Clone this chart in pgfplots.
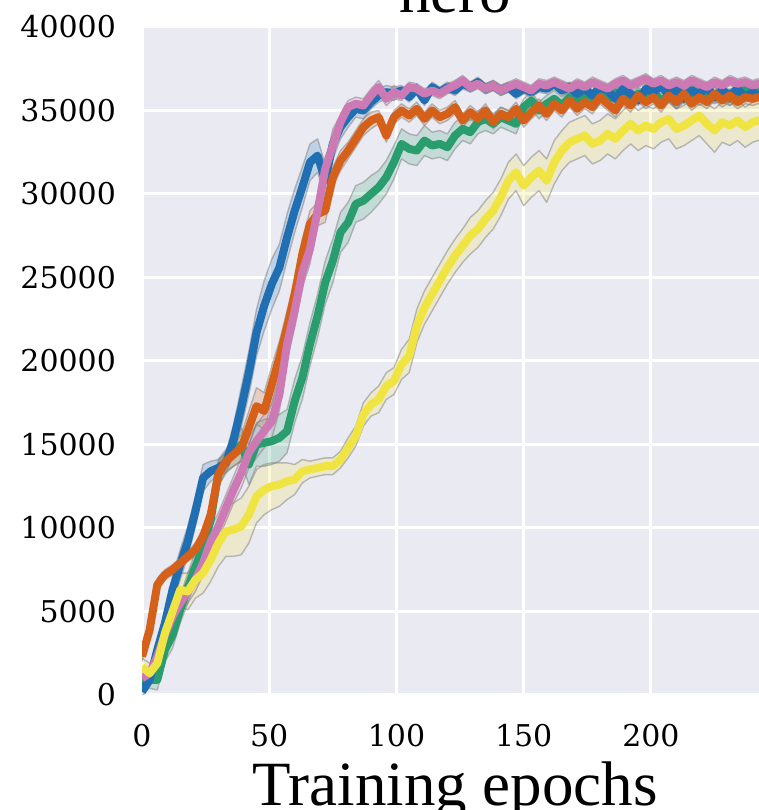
\documentclass[border=0pt]{standalone}
\usepackage{fontspec}
\setmainfont{Liberation Serif}
\newfontfamily\tickfont{DejaVu Serif}
\usepackage{pgfplots}
\pgfplotsset{compat=1.18}
\usepgfplotslibrary{fillbetween}
\usepackage{pgfplotstable}

\definecolor{bg}{HTML}{EAEAF2}
\definecolor{cblue}{HTML}{1F6FB2}
\definecolor{corange}{HTML}{D5601A}
\definecolor{cgreen}{HTML}{2A9D6F}
\definecolor{cpink}{HTML}{CC79B4}
\definecolor{cyellow}{HTML}{F0E442}

% x = epoch, m = mean return, d = half width of the band
\pgfplotstableread{
x m d
0 200 300
3 900 400
6 2700 500
9 4300 700
12 6300 800
15 7800 900
18 9200 900
21 11000 900
24 13000 800
27 13400 600
30 13600 500
33 13900 600
36 15300 900
39 17200 1200
42 19300 1300
45 21700 1400
48 23300 1500
51 24600 1500
54 25600 1400
57 27400 1400
60 29000 1300
63 30400 1200
66 31900 1100
69 32300 1000
72 30800 1000
75 33000 900
78 34000 700
81 34600 600
84 35100 500
87 35000 500
90 35500 400
93 35900 400
96 36100 400
99 36000 400
102 36200 300
105 35800 300
108 36300 300
111 35600 300
114 36400 300
117 36100 300
120 36400 300
123 36200 300
126 36600 300
129 36400 300
132 36700 300
135 36300 300
138 36500 300
141 36200 300
144 36400 300
147 36000 300
150 36300 300
153 36100 300
156 36400 300
159 36300 300
162 36600 300
165 36200 300
168 36400 300
171 36000 300
174 36300 300
177 35900 300
180 36400 300
183 36200 300
186 35700 300
189 36300 300
192 36000 300
195 35600 300
198 36300 300
201 36100 300
204 36500 300
207 35900 300
210 36300 300
213 35700 300
216 36200 300
219 36000 300
222 36400 300
225 35800 300
228 36200 300
231 35900 300
234 36300 300
237 35800 300
240 36100 300
242 35900 300
245 36000 300
}\blueT

\pgfplotstableread{
x m d
0 2300 300
3 3900 400
6 6600 400
9 7200 300
12 7500 300
15 7900 300
18 8300 300
21 8700 400
24 9500 500
27 10800 600
30 13200 700
33 14000 600
36 14400 700
39 14800 800
42 16000 1000
45 17300 1100
48 17000 1100
51 18600 1100
54 20200 1000
57 22000 1000
60 24000 900
63 26400 900
66 28200 800
69 28800 700
72 29000 700
75 31000 600
78 32000 600
81 32600 500
84 33300 500
87 34000 500
90 34400 500
93 34600 400
96 33500 400
99 34600 400
102 35000 400
105 34700 400
108 35100 400
111 34500 400
114 35000 400
117 34600 400
120 34800 400
123 35200 400
126 34400 400
129 34900 400
132 34500 400
135 35000 400
138 34300 400
141 34800 400
144 34600 400
147 35100 400
150 34400 400
153 34900 400
156 35300 400
159 34800 400
162 35400 400
165 35000 400
168 35600 400
171 35100 400
174 35500 400
177 35200 400
180 35800 400
183 35400 400
186 35000 400
189 35700 400
192 35300 400
195 35900 400
198 35500 400
201 35800 400
204 35300 400
207 35900 400
210 35500 400
213 36000 400
216 35400 400
219 35800 400
222 35500 400
225 36000 400
228 35600 400
231 35900 400
234 35500 400
237 35800 400
240 35700 400
242 35800 400
245 35700 400
}\orangeT

\pgfplotstableread{
x m d
0 700 400
3 900 500
6 900 600
9 2700 700
12 3600 800
15 5100 800
18 6400 900
21 7700 900
24 8800 900
27 10500 900
30 13300 800
33 14000 700
36 14500 800
39 15000 1000
42 13800 1200
45 15000 1300
48 15100 1400
51 15200 1400
54 15400 1400
57 15800 1300
60 17600 1300
63 19000 1300
66 21000 1300
69 22700 1300
72 24700 1300
75 26000 1300
78 27700 1200
81 28300 1200
84 29400 1100
87 29600 1100
90 30000 1100
93 30400 1000
96 31000 1000
99 31900 1000
102 33000 900
105 32700 900
108 32600 900
111 33200 900
114 32900 800
117 33000 800
120 32800 800
123 33500 800
126 33900 700
129 33700 700
132 34300 700
135 34500 700
138 34200 600
141 34600 600
144 34400 600
147 34200 600
150 35200 500
153 35600 500
156 35000 500
159 35400 500
162 35700 500
165 35300 500
168 35800 400
171 35500 400
174 35900 400
177 35600 400
180 36000 400
183 35700 400
186 36100 400
189 35800 400
192 35600 400
195 36000 400
198 35700 400
201 36100 400
204 35600 400
207 35900 400
210 35500 400
213 35900 400
216 36200 400
219 35700 400
222 36000 400
225 35800 400
228 36100 400
231 35700 400
234 36100 400
237 36300 400
240 35900 400
242 36100 400
245 36000 400
}\greenT

\pgfplotstableread{
x m d
0 1000 400
3 1300 400
6 2300 500
9 3600 600
12 4700 600
15 5500 600
18 6200 700
21 6900 700
24 7900 700
27 9200 800
30 10100 800
33 11200 800
36 12300 800
39 13300 900
42 14500 900
45 15200 1000
48 15800 1000
51 16400 1000
54 18000 1000
57 21000 1000
60 23000 1000
63 25300 900
66 26700 900
69 29000 800
72 31500 700
75 32900 600
78 34300 500
81 35200 400
84 35400 400
87 35300 400
90 35900 400
93 36400 400
96 35700 400
99 36100 400
102 35900 300
105 36400 300
108 36300 300
111 36000 300
114 36200 300
117 36000 300
120 36300 300
123 36500 300
126 36800 300
129 36400 300
132 36600 300
135 36300 300
138 36500 300
141 36200 300
144 36400 300
147 36600 300
150 36400 300
153 36200 300
156 36600 300
159 36500 300
162 36700 300
165 36500 300
168 36300 300
171 36600 300
174 36400 300
177 36700 300
180 36500 300
183 36300 300
186 36600 300
189 36800 300
192 36500 300
195 36700 300
198 36900 300
201 36600 300
204 36800 300
207 36500 300
210 36700 300
213 36500 300
216 36800 300
219 36600 300
222 36400 300
225 36700 300
228 36500 300
231 36800 300
234 36600 300
237 36700 300
240 36500 300
242 36600 300
245 36500 300
}\pinkT

\pgfplotstableread{
x m d
0 1700 500
3 1300 600
6 1900 700
9 3700 800
12 5000 900
15 6300 1000
18 6200 1100
21 6900 1100
24 7300 1200
27 8100 1300
30 9100 1400
33 9800 1500
36 9900 1600
39 10100 1700
42 10800 1700
45 11900 1600
48 12300 1500
51 12500 1400
54 12600 1300
57 12800 1100
60 12900 900
63 13400 700
66 13500 500
69 13600 500
72 13700 500
75 13700 500
78 14100 500
81 14800 600
84 15500 600
87 16800 700
90 17400 700
93 17700 800
96 18500 800
99 18800 800
102 19800 900
105 20300 1000
108 22100 1000
111 23200 1000
114 24000 1000
117 24800 1000
120 25600 1000
123 26300 1000
126 26900 1000
129 27500 1100
132 27900 1100
135 28500 1100
138 29000 1100
141 29800 1100
144 30800 1100
147 31300 1100
150 30500 1200
153 31000 1200
156 31400 1200
159 30800 1300
162 31900 1300
165 32600 1200
168 33100 1200
171 33300 1200
174 33500 1200
177 33000 1200
180 33200 1200
183 33600 1200
186 33300 1200
189 33800 1200
192 34200 1200
195 33800 1200
198 34100 1200
201 33900 1200
204 34300 1200
207 34500 1200
210 33900 1200
213 34100 1200
216 34400 1200
219 34700 1200
222 34200 1200
225 33800 1300
228 34300 1200
231 34100 1200
234 34400 1200
237 34000 1200
240 34300 1200
242 34400 1200
245 34300 1200
}\yellowT

% band: name, table, colour
\newcommand{\band}[3]{%
  \addplot[name path=#1u, draw=gray, draw opacity=0.5, line width=0.35pt]
    table[x=x, y expr=\thisrow{m}+\thisrow{d}] {#2};
  \addplot[name path=#1l, draw=gray, draw opacity=0.5, line width=0.35pt]
    table[x=x, y expr=\thisrow{m}-\thisrow{d}] {#2};
  \addplot[fill=#3, fill opacity=0.2, draw=none] fill between[of=#1u and #1l];
}

\begin{document}
\begin{tikzpicture}
\begin{axis}[
    name=ax,
    scale only axis,
    width=156.5pt,
    height=167pt,
    xmin=0, xmax=246,
    ymin=0, ymax=40000,
    xtick={0,50,100,150,200},
    ytick={0,5000,10000,15000,20000,25000,30000,35000,40000},
    scaled y ticks=false,
    /pgf/number format/assume math mode=true,
    yticklabel style={/pgf/number format/fixed, /pgf/number format/1000 sep={},
        font=\tickfont\fontsize{7.5}{9}\selectfont, xshift=-3pt},
    xticklabel style={font=\tickfont\fontsize{7.5}{9}\selectfont, yshift=-3.75pt},
    axis background/.style={fill=bg},
    axis line style={draw=none},
    major tick length=0pt,
    grid=major,
    grid style={white, line width=0.75pt},
    line join=round,
]
\band{y}{\yellowT}{cyellow}
\band{g}{\greenT}{cgreen}
\band{b}{\blueT}{cblue}
\band{o}{\orangeT}{corange}
\band{p}{\pinkT}{cpink}

\addplot[cgreen, line width=2pt] table[x=x, y=m] {\greenT};
\addplot[cblue, line width=2pt] table[x=x, y=m] {\blueT};
\addplot[corange, line width=2pt] table[x=x, y=m] {\orangeT};
\addplot[cpink, line width=2pt] table[x=x, y=m] {\pinkT};
\addplot[cyellow, line width=2pt] table[x=x, y=m] {\yellowT};
\end{axis}

\node[anchor=base, font=\fontsize{15.75}{18}\selectfont] at ([yshift=3.5pt]ax.north) {hero};
\node[anchor=base, font=\fontsize{15.75}{18}\selectfont] at ([yshift=-27.5pt]ax.south) {Training epochs};

\pgfresetboundingbox
\useasboundingbox ([xshift=-35.5pt,yshift=-28.75pt]ax.south west) rectangle ([xshift=154.2pt,yshift=6.75pt]ax.north west);
\end{tikzpicture}
\end{document}
